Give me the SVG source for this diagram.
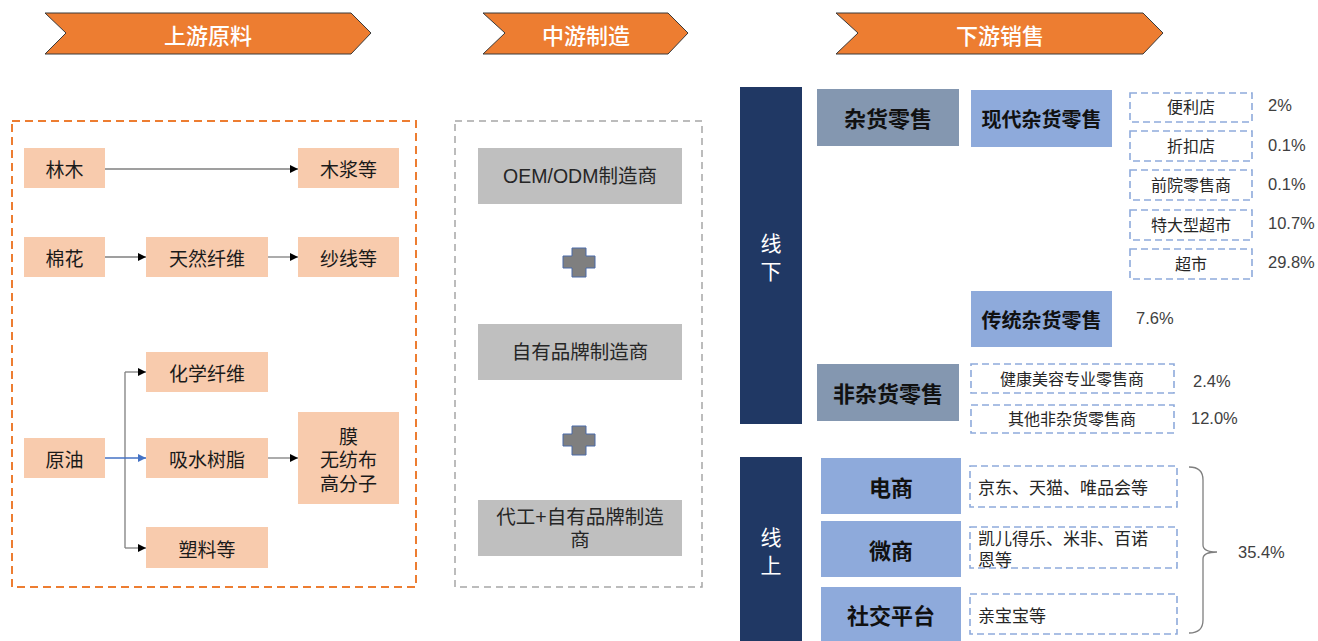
<svg xmlns="http://www.w3.org/2000/svg" width="1318" height="641" viewBox="0 0 1318 641">
<style>
text{font-family:"Noto Sans CJK SC","Liberation Sans",sans-serif;text-anchor:middle;dominant-baseline:central}
.ban{fill:#ED7D31;stroke:#3a3a3a;stroke-width:1}
.bt{fill:#fff;font-size:22px;font-weight:500}
.pk{fill:#F8CBAD}
.pt{fill:#1a1a1a;font-size:19px}
.gr{fill:#BFBFBF}
.gt{fill:#262626;font-size:19.5px;font-family:"Liberation Sans","Noto Sans CJK SC",sans-serif}
.dk{fill:#203864}
.dt{fill:#fff;font-size:21px}
.sl{fill:#8497B0}
.lb{fill:#8EAADB}
.ht{fill:#111;font-size:22px;font-weight:bold}
.hs{fill:#111;font-size:20px;font-weight:bold}
.db{fill:none;stroke:#8EAADB;stroke-width:1.6;stroke-dasharray:7 4}
.st{fill:#262626;font-size:16px}
.so{fill:#262626;font-size:17px;text-anchor:start}
.pc{fill:#404040;font-size:16.5px;font-family:"Liberation Sans",Arial,sans-serif;text-anchor:start}
.ln{stroke:#7f7f7f;stroke-width:1.3;fill:none}
</style>
<defs>
<marker id="ah" viewBox="0 0 10 10" refX="10" refY="5" markerWidth="8" markerHeight="8" markerUnits="userSpaceOnUse" orient="auto"><path d="M0,0L10,5L0,10z" fill="#000"/></marker>
<marker id="ahb" viewBox="0 0 10 10" refX="10" refY="5" markerWidth="8" markerHeight="8" markerUnits="userSpaceOnUse" orient="auto"><path d="M0,0L10,5L0,10z" fill="#4472C4"/></marker>
</defs>

<g id="banner-up"><path class="ban" d="M45,13H351L371,33L351,54H45L66,33Z"/><text class="bt" x="208" y="34">上游原料</text></g>
<g id="banner-mid"><path class="ban" d="M483,13H668L688,33L668,54H483L505,33Z"/><text class="bt" x="586" y="34">中游制造</text></g>
<g id="banner-down"><path class="ban" d="M836,13H1143L1163,33L1143,54H836L858,33Z"/><text class="bt" x="1000" y="34">下游销售</text></g>

<g id="up-frame"><rect x="12" y="121" width="404" height="466" fill="none" stroke="#ED7D31" stroke-width="2" stroke-dasharray="8 5"/></g>
<g id="mid-frame"><rect x="455" y="121" width="247" height="466" fill="none" stroke="#A6A6A6" stroke-width="1.5" stroke-dasharray="7 5"/></g>

<g id="connectors">
<line class="ln" x1="105" y1="169" x2="298" y2="169" marker-end="url(#ah)"/>
<line class="ln" x1="105" y1="257" x2="146" y2="257" marker-end="url(#ah)"/>
<line class="ln" x1="268" y1="257" x2="298" y2="257" marker-end="url(#ah)"/>
<line class="ln" x1="125" y1="372" x2="125" y2="548"/>
<line class="ln" x1="125" y1="372" x2="146" y2="372" marker-end="url(#ah)"/>
<line class="ln" x1="125" y1="548" x2="146" y2="548" marker-end="url(#ah)"/>
<line x1="105" y1="458" x2="146" y2="458" stroke="#4472C4" stroke-width="1.3" marker-end="url(#ahb)"/>
<line class="ln" x1="268" y1="458" x2="298" y2="458" marker-end="url(#ah)"/>
<path d="M1189,467Q1203,467 1203,480V545Q1203,552 1217,552Q1203,552 1203,559V620Q1203,633 1189,633" fill="none" stroke="#7f7f7f" stroke-width="1.3"/>
</g>

<g id="n-linmu"><rect class="pk" x="24" y="148" width="81" height="40"/><text class="pt" x="64.5" y="168">林木</text></g>
<g id="n-mujiang"><rect class="pk" x="298" y="148" width="101" height="40"/><text class="pt" x="348.5" y="168">木浆等</text></g>
<g id="n-mianhua"><rect class="pk" x="24" y="237" width="81" height="40"/><text class="pt" x="64.5" y="257">棉花</text></g>
<g id="n-tianran"><rect class="pk" x="146" y="237" width="122" height="40"/><text class="pt" x="207" y="257">天然纤维</text></g>
<g id="n-shaxian"><rect class="pk" x="298" y="237" width="101" height="40"/><text class="pt" x="348.5" y="257">纱线等</text></g>
<g id="n-huaxue"><rect class="pk" x="146" y="352" width="122" height="40"/><text class="pt" x="207" y="372">化学纤维</text></g>
<g id="n-yuanyou"><rect class="pk" x="24" y="438" width="81" height="40"/><text class="pt" x="64.5" y="458">原油</text></g>
<g id="n-xishui"><rect class="pk" x="146" y="438" width="122" height="40"/><text class="pt" x="207" y="458">吸水树脂</text></g>
<g id="n-mo"><rect class="pk" x="298" y="412" width="101" height="92"/><text class="pt" x="348.5" y="435">膜</text><text class="pt" x="348.5" y="458.5">无纺布</text><text class="pt" x="348.5" y="482">高分子</text></g>
<g id="n-suliao"><rect class="pk" x="146" y="527" width="122" height="41"/><text class="pt" x="207" y="548">塑料等</text></g>

<g id="n-oem"><rect class="gr" x="478" y="148" width="204" height="56"/><text class="gt" x="580" y="176">OEM/ODM制造商</text></g>
<g id="plus1"><path d="M572,248H586V256H595V268H586V277H572V268H563V256H572Z" fill="#7f7f7f" stroke="#4a6aa8" stroke-width="1"/></g>
<g id="n-zyp"><rect class="gr" x="478" y="324" width="204" height="56"/><text class="gt" x="580" y="352">自有品牌制造商</text></g>
<g id="plus2"><path d="M572,426H586V434H595V446H586V455H572V446H563V434H572Z" fill="#7f7f7f" stroke="#4a6aa8" stroke-width="1"/></g>
<g id="n-dg"><rect class="gr" x="478" y="500" width="204" height="56"/><text class="gt" x="580" y="517">代工+自有品牌制造</text><text class="gt" x="580" y="540">商</text></g>

<g id="n-xianxia"><rect class="dk" x="740" y="87" width="62" height="337"/><text class="dt" x="771" y="242">线</text><text class="dt" x="771" y="270">下</text></g>
<g id="n-xianshang"><rect class="dk" x="740" y="457" width="62" height="190"/><text class="dt" x="771" y="536">线</text><text class="dt" x="771" y="564">上</text></g>

<g id="n-zahuo"><rect class="sl" x="817" y="89" width="142" height="57"/><text class="ht" x="888" y="117">杂货零售</text></g>
<g id="n-feizahuo"><rect class="sl" x="817" y="364" width="142" height="57"/><text class="ht" x="888" y="392">非杂货零售</text></g>
<g id="n-xiandai"><rect class="lb" x="971" y="90" width="141" height="57"/><text class="hs" x="1041.5" y="118">现代杂货零售</text></g>
<g id="n-chuantong"><rect class="lb" x="971" y="291" width="141" height="56"/><text class="hs" x="1041.5" y="319">传统杂货零售</text></g>

<g id="n-bianli"><rect class="db" x="1130" y="93" width="122" height="29"/><text class="st" x="1191" y="106">便利店</text><text class="pc" x="1268" y="105">2%</text></g>
<g id="n-zhekou"><rect class="db" x="1130" y="131" width="122" height="30"/><text class="st" x="1191" y="145">折扣店</text><text class="pc" x="1268" y="145">0.1%</text></g>
<g id="n-qianyuan"><rect class="db" x="1130" y="170" width="122" height="30"/><text class="st" x="1191" y="184">前院零售商</text><text class="pc" x="1268" y="184">0.1%</text></g>
<g id="n-tedaxing"><rect class="db" x="1130" y="210" width="122" height="30"/><text class="st" x="1191" y="224">特大型超市</text><text class="pc" x="1268" y="223">10.7%</text></g>
<g id="n-chaoshi"><rect class="db" x="1130" y="249" width="122" height="30"/><text class="st" x="1191" y="263">超市</text><text class="pc" x="1268" y="262">29.8%</text></g>
<g id="n-pct-ct"><text class="pc" x="1136" y="318">7.6%</text></g>
<g id="n-jiankang"><rect class="db" x="971" y="364" width="203" height="29"/><text class="st" x="1072" y="378">健康美容专业零售商</text><text class="pc" x="1193" y="381">2.4%</text></g>
<g id="n-qita"><rect class="db" x="971" y="405" width="203" height="28"/><text class="st" x="1072" y="418">其他非杂货零售商</text><text class="pc" x="1191" y="418">12.0%</text></g>

<g id="n-dianshang"><rect class="lb" x="821" y="458" width="140" height="56"/><text class="ht" x="891" y="486">电商</text></g>
<g id="n-weishang"><rect class="lb" x="821" y="521" width="140" height="56"/><text class="ht" x="891" y="549">微商</text></g>
<g id="n-shejiao"><rect class="lb" x="821" y="587" width="140" height="60"/><text class="ht" x="891" y="614">社交平台</text></g>
<g id="n-jd"><rect class="db" x="970" y="466" width="207" height="41"/><text class="so" x="978" y="486">京东、天猫、唯品会等</text></g>
<g id="n-kaier"><rect class="db" x="970" y="527" width="207" height="41"/><text class="so" x="978" y="537">凯儿得乐、米非、百诺</text><text class="so" x="978" y="558">恩等</text></g>
<g id="n-qbb"><rect class="db" x="970" y="594" width="207" height="40"/><text class="so" x="978" y="614">亲宝宝等</text></g>
<g id="n-pct-online"><text class="pc" x="1238" y="552">35.4%</text></g>
</svg>
